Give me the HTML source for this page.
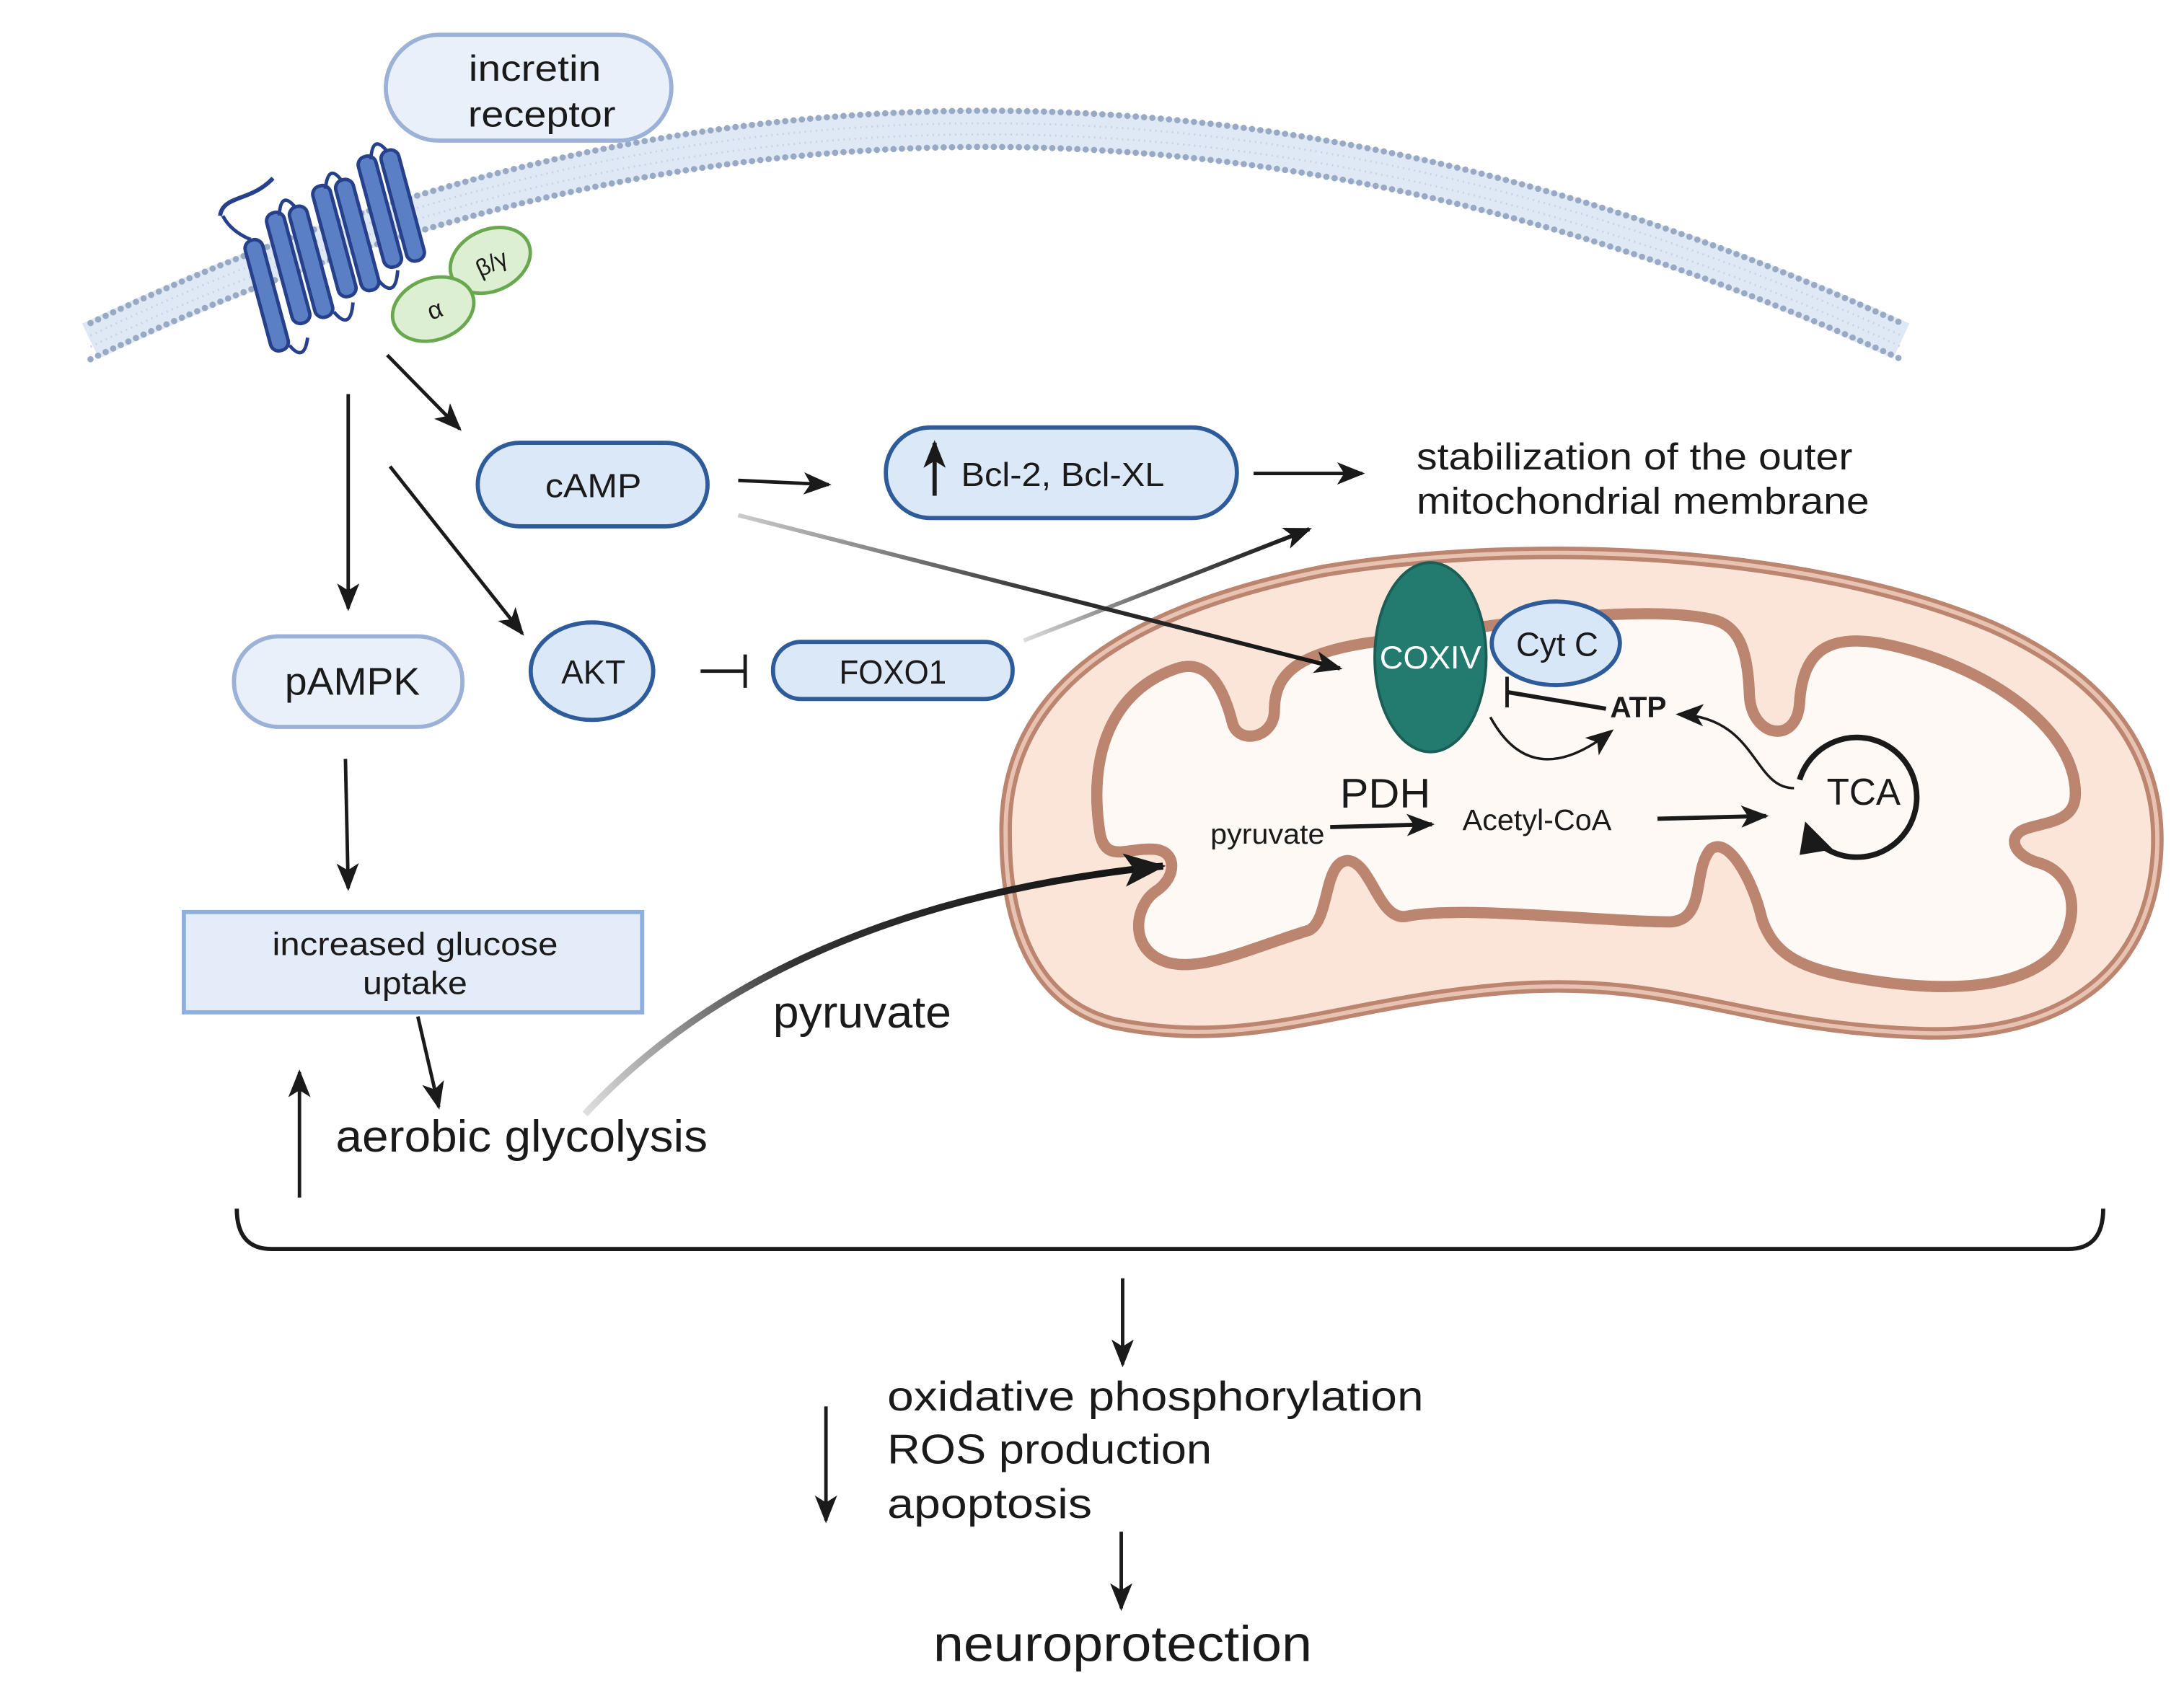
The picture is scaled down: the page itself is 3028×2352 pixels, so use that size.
<!DOCTYPE html>
<html><head><meta charset="utf-8"><style>
html,body{margin:0;padding:0;background:#fff}
svg{display:block}
text{font-family:"Liberation Sans","DejaVu Sans",sans-serif;fill:#1a1a1a}
</style></head><body>
<svg width="3028" height="2352" viewBox="0 0 1568 1218" preserveAspectRatio="none" xmlns="http://www.w3.org/2000/svg">
<defs>
<marker id="ah" markerUnits="userSpaceOnUse" markerWidth="20" markerHeight="16" refX="18" refY="8" orient="auto"><path d="M0,0 L20,8 L0,16 L5,8 Z" fill="#1a1a1a"/></marker>
<marker id="ahb" markerUnits="userSpaceOnUse" markerWidth="30" markerHeight="24" refX="28" refY="12" orient="auto"><path d="M0,0 L30,12 L0,24 L7,12 Z" fill="#1a1a1a"/></marker>
<linearGradient id="g1" x1="0" y1="0" x2="1" y2="0"><stop offset="0" stop-color="#ccc"/><stop offset="0.5" stop-color="#333"/><stop offset="1" stop-color="#111"/></linearGradient>
<linearGradient id="g2" gradientUnits="userSpaceOnUse" x1="420" y1="800" x2="835" y2="622"><stop offset="0" stop-color="#e0e0e0"/><stop offset="0.4" stop-color="#333"/><stop offset="1" stop-color="#111"/></linearGradient>
<linearGradient id="g3" gradientUnits="userSpaceOnUse" x1="735" y1="460" x2="940" y2="380"><stop offset="0" stop-color="#ddd"/><stop offset="0.5" stop-color="#555"/><stop offset="1" stop-color="#111"/></linearGradient>
</defs>

<!-- membrane -->
<path d="M65,245 Q700,-60 1365,245" fill="none" stroke="#dfe8f5" stroke-width="28"/>
<path d="M65,245 Q700,-60 1365,245" fill="none" stroke="#c4d2e8" stroke-width="1.5" stroke-dasharray="1 3" transform="translate(0,-4)"/>
<path d="M65,245 Q700,-60 1365,245" fill="none" stroke="#c4d2e8" stroke-width="1.5" stroke-dasharray="1 3" transform="translate(0,4)"/>
<path d="M65,245 Q700,-60 1365,245" fill="none" stroke="#98a9c3" stroke-width="4.5" stroke-linecap="round" stroke-dasharray="0 6" transform="translate(0,-13)"/>
<path d="M65,245 Q700,-60 1365,245" fill="none" stroke="#98a9c3" stroke-width="4.5" stroke-linecap="round" stroke-dasharray="0 6" transform="translate(0,13)"/>

<!-- incretin receptor label -->
<rect x="277" y="25" width="205" height="76" rx="38" fill="#e9f0fa" stroke="#9cb1d8" stroke-width="3"/>
<text x="384" y="58" font-size="26" text-anchor="middle" textLength="95" lengthAdjust="spacingAndGlyphs">incretin</text>
<text x="389" y="91" font-size="26" text-anchor="middle" textLength="106" lengthAdjust="spacingAndGlyphs">receptor</text>

<!-- GPCR -->
<path d="M158,155 C160,140 180,145 196,128" fill="none" stroke="#26408c" stroke-width="3"/>
<g fill="#5b7fc4" stroke="#26408c" stroke-width="2.5">
<path d="M160,155 C165,165 175,170 180,172" fill="none"/>
<g transform="rotate(-15 230 180)">
<rect x="178" y="160" width="13" height="82" rx="6"/>
<rect x="198" y="145" width="13" height="82" rx="6"/>
<rect x="215" y="145" width="13" height="82" rx="6"/>
<rect x="235" y="135" width="13" height="82" rx="6"/>
<rect x="252" y="135" width="13" height="82" rx="6"/>
<rect x="272" y="123" width="13" height="82" rx="6"/>
<rect x="289" y="123" width="13" height="82" rx="6"/>
<path d="M191,240 Q198,255 205,238 M208,148 Q214,130 221,146 M228,225 Q236,242 243,222 M245,138 Q252,120 258,136 M265,212 Q273,228 280,208 M282,126 Q288,108 295,124" fill="none"/>
</g>
</g>
<g stroke="#6aa84f" stroke-width="2.5" fill="#dcefd2">
<ellipse cx="352" cy="187" rx="30" ry="22" transform="rotate(-25 352 187)"/>
<ellipse cx="311" cy="222" rx="30" ry="22" transform="rotate(-20 311 222)"/>
</g>
<text x="352" y="195" font-size="17" text-anchor="middle" transform="rotate(-25 352 187)">β/γ</text>
<text x="312" y="229" font-size="18" text-anchor="middle" transform="rotate(-20 311 222)">α</text>

<!-- mitochondrion -->
<path d="M722,600 C720,500 800,440 950,410 C1100,385 1300,395 1430,450 C1520,490 1555,550 1548,620 C1540,700 1480,745 1380,742 C1250,738 1200,700 1080,710 C960,720 900,755 800,735 C740,720 722,660 722,600 Z" fill="#fbe4d8" stroke="#bb856f" stroke-width="9"/>
<path d="M722,600 C720,500 800,440 950,410 C1100,385 1300,395 1430,450 C1520,490 1555,550 1548,620 C1540,700 1480,745 1380,742 C1250,738 1200,700 1080,710 C960,720 900,755 800,735 C740,720 722,660 722,600 Z" fill="none" stroke="#e9c3b2" stroke-width="3"/>
<path id="inner" d="M790,600 C780,540 800,495 845,480 C870,472 880,500 885,520 C890,535 915,530 915,510 C915,485 930,470 980,462 L1080,448 C1150,440 1200,438 1230,445 C1250,450 1255,470 1256,500 C1258,530 1290,535 1292,505 C1294,470 1310,455 1350,462 C1420,475 1490,520 1490,570 C1490,590 1470,590 1455,595 C1440,600 1445,615 1465,620 C1490,628 1495,660 1475,685 C1450,710 1400,712 1350,705 C1300,698 1275,690 1265,660 C1258,630 1240,600 1228,610 C1215,625 1225,660 1200,662 C1150,662 1050,650 1010,658 C990,662 985,620 968,618 C950,618 955,660 940,668 C900,680 860,700 835,690 C810,680 815,650 830,640 C845,630 845,612 830,610 C810,608 795,620 790,600 Z" fill="#fff9f6" stroke="#bb856f" stroke-width="8"/>
<use href="#inner" fill="none" stroke="#e9c3b2" stroke-width="3"/>

<!-- nodes -->
<rect x="343" y="318" width="165" height="60" rx="30" fill="#dbe8f7" stroke="#2e5c9a" stroke-width="3"/>
<text x="426" y="357" font-size="24" text-anchor="middle" textLength="69" lengthAdjust="spacingAndGlyphs">cAMP</text>
<rect x="636" y="307" width="252" height="65" rx="32" fill="#dbe8f7" stroke="#2e5c9a" stroke-width="3"/>
<line x1="671" y1="356" x2="671" y2="318" stroke="#1a1a1a" stroke-width="3" marker-end="url(#ah)"/>
<text x="690" y="349" font-size="24" textLength="146" lengthAdjust="spacingAndGlyphs">Bcl-2,  Bcl-XL</text>
<text x="1017" y="337" font-size="27" textLength="313" lengthAdjust="spacingAndGlyphs">stabilization of the outer</text>
<text x="1017" y="369" font-size="27" textLength="325" lengthAdjust="spacingAndGlyphs">mitochondrial membrane</text>
<rect x="168" y="457" width="164" height="65" rx="32" fill="#e9f0fa" stroke="#9cb1d8" stroke-width="3"/>
<text x="253" y="499" font-size="28" text-anchor="middle" textLength="97" lengthAdjust="spacingAndGlyphs">pAMPK</text>
<ellipse cx="425" cy="482" rx="44" ry="35" fill="#dbe8f7" stroke="#2e5c9a" stroke-width="3"/>
<text x="426" y="491" font-size="24" text-anchor="middle" textLength="46" lengthAdjust="spacingAndGlyphs">AKT</text>
<rect x="555" y="461" width="172" height="41" rx="20" fill="#dbe8f7" stroke="#2e5c9a" stroke-width="3"/>
<text x="641" y="491" font-size="24" text-anchor="middle" textLength="77" lengthAdjust="spacingAndGlyphs">FOXO1</text>

<!-- arrows -->
<g stroke="#1a1a1a" stroke-width="2.5" fill="none">
<line x1="250" y1="283" x2="250" y2="437" marker-end="url(#ah)"/>
<line x1="278" y1="255" x2="330" y2="308" marker-end="url(#ah)"/>
<line x1="280" y1="335" x2="375" y2="455" marker-end="url(#ah)"/>
<line x1="530" y1="345" x2="595" y2="348" marker-end="url(#ah)"/>
<line x1="900" y1="340" x2="978" y2="340" marker-end="url(#ah)"/>
<line x1="503" y1="482" x2="535" y2="482"/>
<line x1="535" y1="470" x2="535" y2="494"/>
<line x1="248" y1="545" x2="250" y2="638" marker-end="url(#ah)"/>
<line x1="300" y1="730" x2="315" y2="795" marker-end="url(#ah)"/>
<line x1="215" y1="860" x2="215" y2="770" marker-end="url(#ah)"/>
<line x1="806" y1="918" x2="806" y2="980" marker-end="url(#ah)"/>
<line x1="593" y1="1010" x2="593" y2="1092" marker-end="url(#ah)"/>
<line x1="805" y1="1100" x2="805" y2="1155" marker-end="url(#ah)"/>
</g>
<line x1="735" y1="460" x2="940" y2="380" stroke="url(#g3)" stroke-width="3" marker-end="url(#ah)"/>
<path d="M530,370 L962,480" stroke="url(#g1)" stroke-width="3" fill="none" marker-end="url(#ah)"/>
<path d="M420,800 Q560,650 835,622" stroke="url(#g2)" stroke-width="5" fill="none" marker-end="url(#ahb)"/>

<!-- COXIV etc -->
<ellipse cx="1027" cy="472" rx="40" ry="68" fill="#237a6e" stroke="#1b5e55" stroke-width="2"/>
<text x="1027" y="480" font-size="23" text-anchor="middle" textLength="73" lengthAdjust="spacingAndGlyphs" style="fill:#fff">COXIV</text>
<ellipse cx="1117" cy="462" rx="46" ry="30" fill="#d8e7f7" stroke="#2e5c9a" stroke-width="3"/>
<text x="1118" y="471" font-size="24" text-anchor="middle" textLength="59" lengthAdjust="spacingAndGlyphs">Cyt C</text>
<text x="1156" y="515" font-size="21" font-weight="bold">ATP</text>
<g stroke="#1a1a1a" fill="none">
<line x1="1153" y1="509" x2="1082" y2="497" stroke-width="3"/>
<line x1="1082" y1="486" x2="1082" y2="508" stroke-width="2.5"/>
<path d="M1070,515 Q1100,570 1157,525" stroke-width="1.8" marker-end="url(#ah)"/>
<path d="M1288,566 C1258,566 1262,515 1205,513" stroke-width="1.8" marker-end="url(#ah)"/>
<path d="M1292,560 A43,43 0 1 1 1300,600" stroke-width="4"/>
<line x1="955" y1="594" x2="1028" y2="592" stroke-width="3" marker-end="url(#ah)"/>
<line x1="1190" y1="588" x2="1268" y2="586" stroke-width="3" marker-end="url(#ah)"/>
</g>
<path d="M1296,590 L1316,610 L1292,614 Z" fill="#1a1a1a"/>
<text x="1338" y="578" font-size="27" text-anchor="middle" textLength="53" lengthAdjust="spacingAndGlyphs">TCA</text>
<text x="962" y="580" font-size="30" textLength="65" lengthAdjust="spacingAndGlyphs">PDH</text>
<text x="869" y="606" font-size="20" textLength="82" lengthAdjust="spacingAndGlyphs">pyruvate</text>
<text x="1050" y="596" font-size="21" textLength="107" lengthAdjust="spacingAndGlyphs">Acetyl-CoA</text>

<text x="555" y="738" font-size="32" textLength="128" lengthAdjust="spacingAndGlyphs">pyruvate</text>
<rect x="132" y="655" width="329" height="72" fill="#e3ecf8" stroke="#8fb0df" stroke-width="3"/>
<text x="298" y="686" font-size="23" text-anchor="middle" textLength="205" lengthAdjust="spacingAndGlyphs">increased glucose</text>
<text x="298" y="714" font-size="23" text-anchor="middle" textLength="75" lengthAdjust="spacingAndGlyphs">uptake</text>
<text x="241" y="827" font-size="32" textLength="267" lengthAdjust="spacingAndGlyphs">aerobic glycolysis</text>

<path d="M170,868 Q170,897 195,897 L1485,897 Q1510,897 1510,868" fill="none" stroke="#1a1a1a" stroke-width="3"/>

<text x="637" y="1013" font-size="30" textLength="385" lengthAdjust="spacingAndGlyphs">oxidative phosphorylation</text>
<text x="637" y="1051" font-size="30" textLength="233" lengthAdjust="spacingAndGlyphs">ROS production</text>
<text x="637" y="1090" font-size="30" textLength="147" lengthAdjust="spacingAndGlyphs">apoptosis</text>
<text x="806" y="1193" font-size="36" text-anchor="middle" textLength="272" lengthAdjust="spacingAndGlyphs">neuroprotection</text>
</svg>
</body></html>
